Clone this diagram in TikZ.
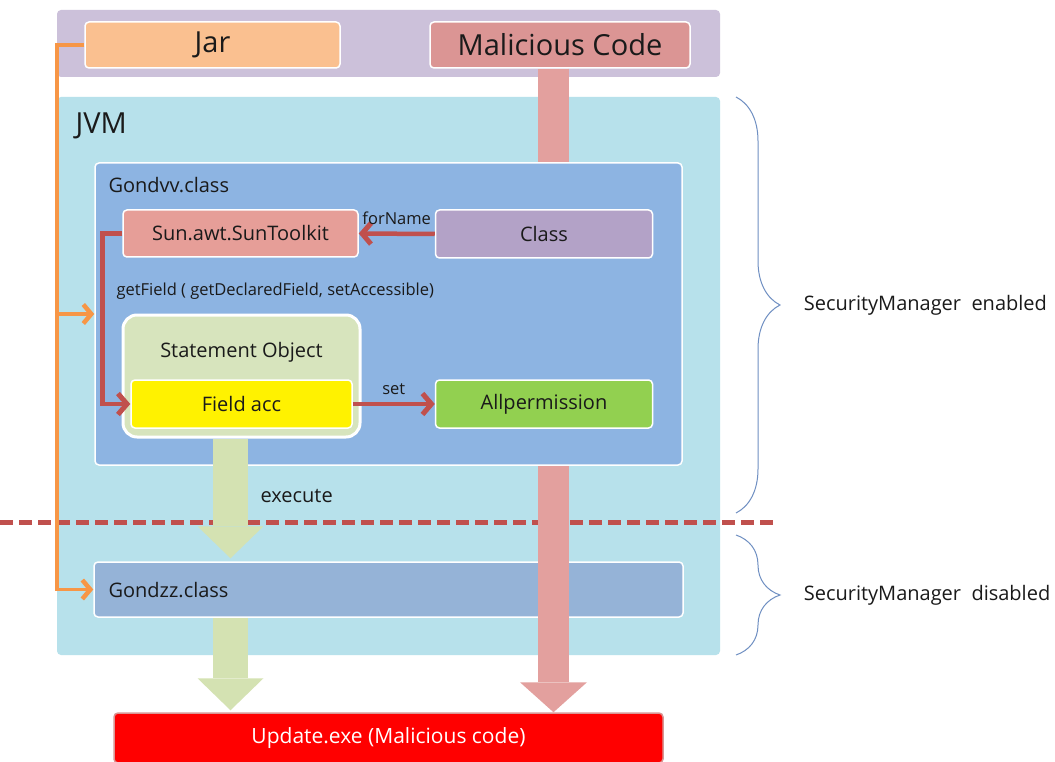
\documentclass[tikz,border=0pt]{standalone}
\usepackage{fontspec}
\setmainfont{Open Sans}
\usepackage{tikz}
\usetikzlibrary{arrows.meta, positioning, decorations.pathreplacing, calc}
\definecolor{Lavender}{HTML}{CCC1DA}
\definecolor{Peach}{HTML}{FAC090}
\definecolor{Rose_Pink}{HTML}{E3A09E}
\definecolor{Rose_Deep}{HTML}{DB9594}
\definecolor{Sky_Cyan}{HTML}{B7E1EB}
\definecolor{Steel_Blue}{HTML}{8DB4E2}
\definecolor{Dusk_Blue}{HTML}{95B3D7}
\definecolor{Salmon}{HTML}{E69E98}
\definecolor{Lilac}{HTML}{B3A2C7}
\definecolor{Pale_Olive}{HTML}{D7E4BD}
\definecolor{Sage}{HTML}{D4E2B2}
\definecolor{Lime}{HTML}{92D050}
\definecolor{Brick}{HTML}{C0504D}
\definecolor{Tangerine}{HTML}{F79646}
\definecolor{Brace_Blue}{HTML}{6F8FC2}
\definecolor{Ink}{HTML}{1A1A1A}

\tikzset{
    panel/.style={rounded corners=4pt, inner sep=0pt},
    box/.style={panel, draw=white, line width=1.5pt},
    bigtext/.style={font=\fontsize{29}{34}\selectfont, text=Ink},
    midtext/.style={font=\fontsize{20}{24}\selectfont, text=Ink},
    smalltext/.style={font=\fontsize{16.5}{19}\selectfont, text=Ink},
    callarrow/.style={draw=Brick, line width=4.5pt, -{Straight Barb[length=9pt, width=21pt, line width=5pt]}},
    jarline/.style={draw=Tangerine, line width=3.5pt, -{Straight Barb[length=8pt, width=19pt, line width=4.5pt]}},
    fatarrow/.style={draw=Sage, line width=35pt, -{Triangle[length=32pt, width=66pt, line width=0pt]}},
    pinkbar/.style={draw=Rose_Pink, line width=31pt, -{Triangle[length=30pt, width=67pt, line width=0pt]}},
    divider/.style={draw=Brick, line width=5pt, dash pattern=on 13pt off 6pt},
    bracket/.style={draw=Brace_Blue, line width=1pt, decorate, decoration={brace, amplitude=44pt}}
}

\begin{document}
\begin{tikzpicture}[x=1pt, y=-1pt]
    \useasboundingbox (0,0) rectangle (1055,762);
    \fill[white] (0,0) rectangle (1055,762);

    % Sources on top
    \node[panel, fill=Lavender, minimum width=663pt, minimum height=67pt] (topbar) at (388.5,43.5) {};
    \node[box, fill=Peach, minimum width=255pt, minimum height=46pt, bigtext] (jar) at (212.5,45) {Jar};
    \node[box, fill=Rose_Deep, minimum width=260pt, minimum height=46pt, bigtext] (malicious) at (560,45) {Malicious Code};

    % JVM area
    \node[panel, fill=Sky_Cyan, minimum width=663pt, minimum height=558pt] (jvm) at (388.5,376) {};
    \node[bigtext, anchor=west] (jvmlabel) at (72,126) {JVM};

    % Lower class and the payload
    \node[box, fill=Dusk_Blue, minimum width=589pt, minimum height=55pt] (gondzz) at (388.5,589.5) {};
    \node[midtext, anchor=west] (gondzzlabel) at (105,590) {Gondzz.class};
    \node[box, draw=Brick!60, fill=red, minimum width=549pt, minimum height=50pt, font=\fontsize{21}{25}\selectfont, text=white] (update) at (388.5,738) {Update.exe (Malicious code)};

    % Border between the two states
    \draw[divider] (0,522) -- (778,522);

    % Malicious code goes straight through
    \draw[pinkbar] ([xshift=-6.5pt]malicious.south) -- ([xshift=-6.5pt]malicious.south |- update.north);

    % Gondvv.class
    \node[box, fill=Steel_Blue, minimum width=587pt, minimum height=302pt] (gondvv) at (388.5,314) {};
    \node[midtext, anchor=west] (gondvvlabel) at (105,185) {Gondvv.class};
    \node[box, fill=Salmon, minimum width=235pt, minimum height=47pt, midtext] (toolkit) at (240.5,233.5) {Sun.awt.SunToolkit};
    \node[box, fill=Lilac, minimum width=217pt, minimum height=48pt, midtext] (class) at (544,234) {Class};
    \node[smalltext, anchor=west] (getfield) at (113,291) {getField ( getDeclaredField, setAccessible)};
    \node[box, line width=3pt, rounded corners=14pt, fill=Pale_Olive, minimum width=237pt, minimum height=122pt] (stmt) at (241.5,376) {};
    \node[midtext] (stmtlabel) at (241.5,352) {Statement Object};
    \node[box, fill=yellow, minimum width=221pt, minimum height=48pt, midtext] (fieldacc) at (241.5,404) {Field acc};
    \node[box, fill=Lime, minimum width=217pt, minimum height=48pt, midtext] (allperm) at (544,404) {Allpermission};

    \draw[callarrow] (class.west) -- node[smalltext, above=4pt] (fornamelabel) {forName} (toolkit.east);
    \draw[callarrow] (toolkit.west) -- ++(-20,0) |- (fieldacc.west);
    \draw[callarrow] (fieldacc.east) -- node[smalltext, above=4pt] (setlabel) {set} (allperm.west);

    % Execution flow
    \draw[fatarrow] ([xshift=-11pt]stmt.south) -- ([xshift=-11pt, yshift=3pt]stmt.south |- gondzz.north);
    \node[midtext, anchor=west] (executelabel) at (257,496) {execute};
    \draw[fatarrow] ([xshift=-11pt]stmt.south |- gondzz.south) -- ([xshift=-11pt, yshift=2pt]stmt.south |- update.north);

    % Jar loads both classes
    \draw[jarline] (jar.west) -| (jvm.west) |- (gondzz.west);
    \draw[jarline] (jvm.west |- gondvv.west) -- (gondvv.west);

    % SecurityManager states
    \draw[bracket] (736,97) -- node[midtext, anchor=west, xshift=64pt] (smon) {SecurityManager\ \ enabled} (736,513);
    \draw[bracket] (736,535) -- node[midtext, anchor=west, xshift=64pt] (smoff) {SecurityManager\ \ disabled} (736,655);
\end{tikzpicture}
\end{document}
